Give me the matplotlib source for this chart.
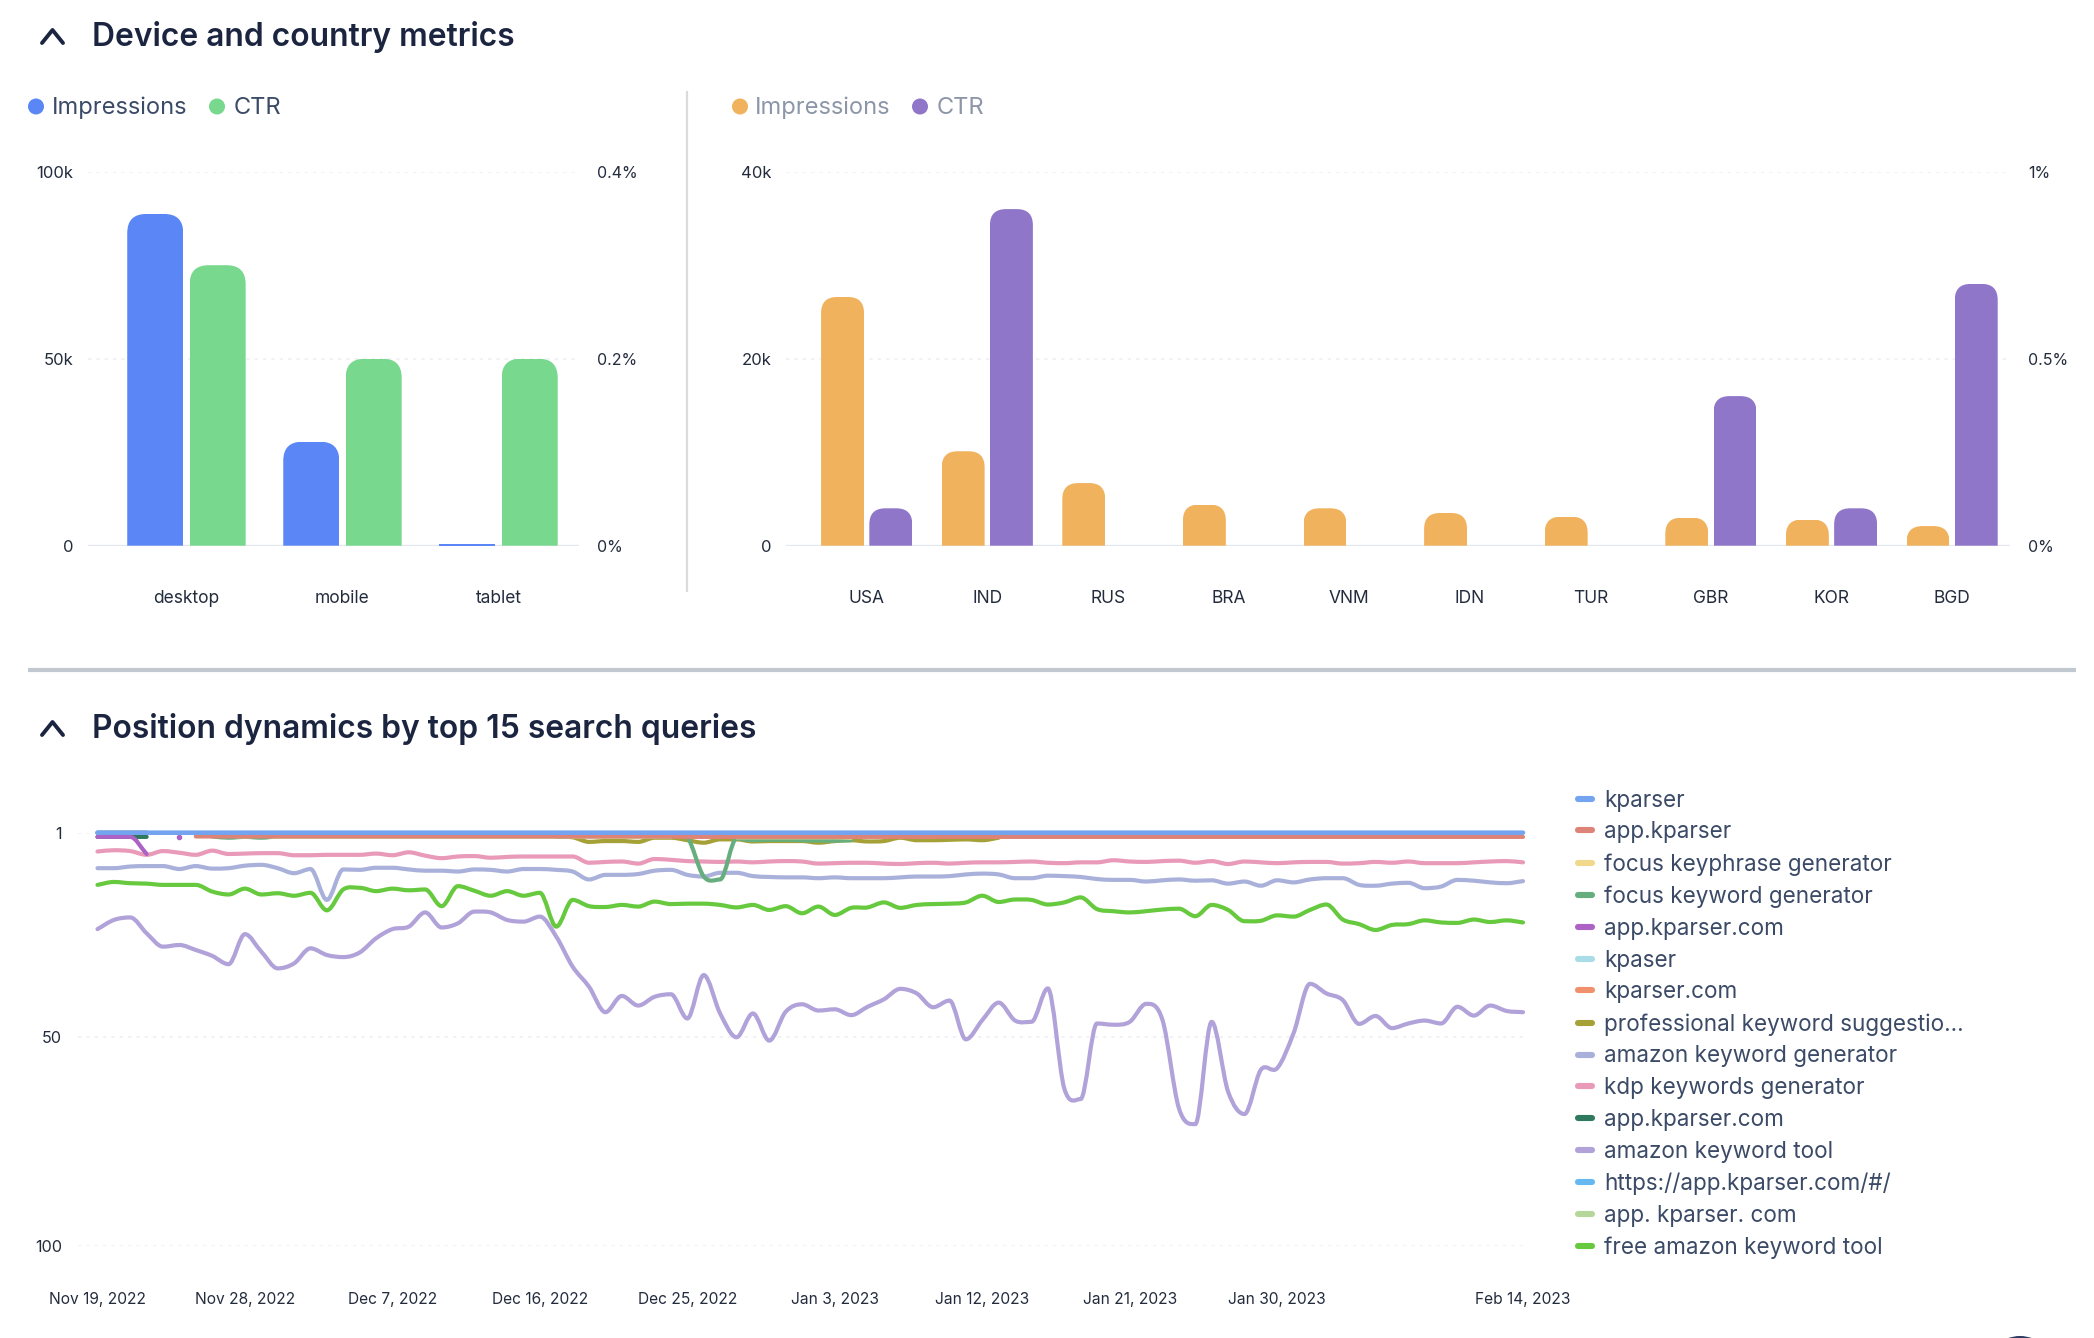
#!/usr/bin/env python3
"""Device / country bars and keyword position dynamics, saved to out.png."""

import matplotlib
matplotlib.use("Agg")
import matplotlib.pyplot as plt
from matplotlib.lines import Line2D
from matplotlib.patches import Circle, PathPatch
from matplotlib.path import Path
import numpy as np

plt.rcParams['font.family'] = ['Inter', 'DejaVu Sans']

W, H = 2094, 1338
nan = np.nan

devices = ["desktop", "mobile", "tablet"]
device_impressions = [88700, 27800, 500]
device_ctr = [0.3, 0.2, 0.2]

countries = ["USA", "IND", "RUS", "BRA", "VNM", "IDN", "TUR", "GBR", "KOR", "BGD"]
country_impressions = [26600, 10100, 6700, 4400, 4000, 3500, 3100, 3000, 2800, 2100]
country_ctr = [0.1, 0.9, 0, 0, 0, 0, 0, 0.4, 0.1, 0.7]

date_ticks = [0, 9, 18, 27, 36, 45, 54, 63, 72, 87]
date_labels = ["Nov 19, 2022", "Nov 28, 2022", "Dec 7, 2022", "Dec 16, 2022", "Dec 25, 2022",
               "Jan 3, 2023", "Jan 12, 2023", "Jan 21, 2023", "Jan 30, 2023", "Feb 14, 2023"]

kparser = [1.0] * 88
app_kparser = [nan] * 6 + [1.9] * 30 + [2.0] * 52
focus_keyphrase = ([nan] * 8 + [1.7, 1.9, 1.7] + [1.9] * 25 + [nan] * 3 + [2.1] * 7 + [2.2] + [nan] * 41)
focus_keyword = ([nan] * 7 + [1.9, 2.2, 2.0, 2.2] + [1.9] * 25 + [2.1, 11.5, 12.2, 2.4, 2.8, 2.7, 2.7, 2.8, 2.9, 2.9, 2.8] + [nan] * 41)
app_kparser_com = [2.0, 2.0, 2.0, 6.1, nan, 2.0] + [nan] * 82
kpaser = [1.0] * 4 + [nan] * 84
kparser_com = [1.0] * 4 + [nan] * 84
professional = ([nan] * 28 + [2.0, 2.1, 3.2, 3.0, 3.0, 3.2, 2.2, 2.2, 2.8, 3.4, 2.6, 2.6,
                 3.1, 3.0, 3.0, 3.0, 3.4, 3.0, 2.8, 3.1, 3.0, 2.2, 2.8, 2.8, 2.7, 2.6, 2.8, 2.2] + [nan] * 32)
amazon_generator = [9.5, 9.5, 9.1, 9, 9, 9.7, 9, 9.6, 9.5, 8.9,
                    8.7, 9.5, 10.7, 9.7, 17.1, 9.8, 9.9, 9.4, 9.4, 9.8,
                    10.1, 10.1, 10.3, 9.8, 9.9, 10.3, 9.7, 9.7, 9.9, 10.3,
                    12.2, 11.1, 11.1, 10.9, 10.1, 9.9, 11.1, 11.5, 10.6, 10.6,
                    11.4, 11.6, 11.7, 11.7, 11.9, 11.7, 11.9, 11.9, 11.9, 11.7,
                    11.5, 11.5, 11.4, 11, 10.8, 11, 11.9, 11.9, 11.3, 11.4,
                    11.6, 12.1, 12.3, 12.3, 12.7, 12.4, 12.2, 12.5, 12.4, 13.2,
                    12.7, 13.7, 12.4, 12.9, 12.2, 11.9, 11.9, 13.5, 13.7, 13.2,
                    13, 14.3, 13.9, 12.3, 12.5, 12.9, 13.1, 12.6]
kdp_generator = [5.5, 5.2, 5.4, 6.3, 5.4, 5.8, 6.3, 5.3, 6.1, 6,
                 5.9, 5.9, 6.4, 6.4, 6.3, 6.3, 6.3, 6, 6.4, 5.7,
                 6.5, 7.1, 6.7, 6.6, 7, 6.8, 6.7, 6.7, 6.7, 6.7,
                 8.2, 8, 7.9, 8.4, 7.3, 7.5, 7.8, 7.9, 8, 7.9,
                 8.1, 7.9, 7.8, 7.9, 8.4, 8.3, 8.2, 8.2, 8.4, 8.5,
                 8.3, 8.2, 8.4, 8.2, 8.1, 8.1, 8, 7.9, 8.2, 8.3,
                 8.1, 8.1, 7.6, 7.9, 8, 7.8, 7.7, 8.2, 7.8, 8.5,
                 7.9, 8.1, 8.3, 8.1, 8, 8, 8.4, 8.3, 8, 8.2,
                 7.9, 8.3, 8.3, 8.3, 8.1, 7.9, 7.8, 8.1]
app_kparser_com2 = [2.0, 2.0, 2.0, 2.0] + [nan] * 84
amazon_tool = [24.1, 21.9, 21.3, 25.1, 28.3, 27.9, 29.1, 30.5, 32.5, 25.3,
               29.5, 33.5, 32.3, 28.7, 30.3, 30.8, 29.7, 26.3, 24.1, 23.5,
               20.1, 23.7, 22.7, 19.9, 20.1, 21.9, 22.3, 21.1, 25.9, 33.1,
               37.9, 44, 40.1, 42.4, 40.3, 39.7, 45.5, 35.1, 44.3, 50,
               44.3, 50.8, 43.9, 42.1, 43.6, 43.3, 44.7, 42.7, 40.9, 38.4,
               39.5, 42.8, 41.2, 50.5, 45.9, 41.7, 46, 46.3, 38.3, 62.2,
               64.8, 46.7, 47, 46.3, 42, 45.9, 67, 70.8, 46.3, 63,
               68.4, 57.8, 57.4, 49, 37.2, 39.5, 41.1, 46.8, 44.9, 47.8,
               46.7, 46, 46.7, 42.7, 44.8, 42.4, 43.7, 44]
https_kparser = [1.0] * 4 + [nan] * 84
app_kparser_spaced = [1.0] * 4 + [nan] * 84
free_tool = [13.5, 12.8, 13.1, 13.2, 13.5, 13.5, 13.5, 15.1, 15.8, 14.4,
             15.8, 15.5, 16.1, 15.4, 19.6, 14.6, 14.2, 15, 14.4, 14.8,
             14.6, 18.6, 13.8, 14.9, 16.1, 15, 16.1, 15.4, 23.5, 17.1,
             18.6, 18.8, 18.3, 18.7, 17.5, 18.1, 18, 18, 18.3, 18.9,
             18.3, 19.5, 18.6, 20.3, 18.7, 20.7, 19, 18.9, 17.7, 19,
             18.3, 18.1, 18, 17.7, 16.1, 17.6, 17, 17.1, 18.2, 17.7,
             16.5, 19.3, 19.8, 20.1, 19.8, 19.4, 19.2, 21, 18.3, 19.5,
             22.2, 22.1, 20.8, 21.1, 19.5, 18.2, 21.8, 22.9, 24.3, 23.1,
             22.9, 22, 22.5, 22.6, 21.8, 22.4, 22, 22.5]

# legend order, the first ones are drawn on top
queries = [
    ("kparser", kparser, "#74a3ef"),
    ("app.kparser", app_kparser, "#de8377"),
    ("focus keyphrase generator", focus_keyphrase, "#f0d98a"),
    ("focus keyword generator", focus_keyword, "#67ae7f"),
    ("app.kparser.com", app_kparser_com, "#ad62c5"),
    ("kpaser", kpaser, "#a8dce6"),
    ("kparser.com", kparser_com, "#f0906c"),
    ("professional keyword suggestio...", professional, "#a5a136"),
    ("amazon keyword generator", amazon_generator, "#a9b1db"),
    ("kdp keywords generator", kdp_generator, "#e89ab8"),
    ("app.kparser.com", app_kparser_com2, "#2f7a5e"),
    ("amazon keyword tool", amazon_tool, "#b1a2d9"),
    ("https://app.kparser.com/#/", https_kparser, "#66b8f0"),
    ("app. kparser. com", app_kparser_spaced, "#b5d89a"),
    ("free amazon keyword tool", free_tool, "#66c93e"),
]

TEXT = "#232c3d"
GRID = "#eef0f4"
BASE = "#e4e8ee"


def px_axes(fig, x0, y0, x1, y1):
    return fig.add_axes([x0 / W, 1 - y1 / H, (x1 - x0) / W, (y1 - y0) / H])


def round_tops(ax, bars, r_px):
    # keep real bars, only clip their two top corners
    box = ax.get_window_extent()
    xl, yl = ax.get_xlim(), ax.get_ylim()
    rx = r_px * (xl[1] - xl[0]) / box.width
    ry = r_px * (yl[1] - yl[0]) / box.height
    for b in bars:
        x0, x1, h = b.get_x(), b.get_x() + b.get_width(), b.get_height()
        if h < ry:
            continue
        verts = [(x0, 0), (x0, h - ry), (x0, h), (x0 + rx, h), (x1 - rx, h), (x1, h), (x1, h - ry), (x1, 0), (x0, 0)]
        codes = [Path.MOVETO, Path.LINETO, Path.CURVE3, Path.CURVE3, Path.LINETO,
                 Path.CURVE3, Path.CURVE3, Path.LINETO, Path.CLOSEPOLY]
        b.set_clip_path(Path(verts, codes), ax.transData)


def bar_panel(fig, box, cats, left, right, xlim, left_max, right_max, left_fmt, right_fmt, colors):
    ax = px_axes(fig, *box)
    ax2 = ax.twinx()
    x = np.arange(len(cats))
    width = colors[2]
    ax.set_xlim(*xlim)
    ax.set_ylim(0, left_max)
    ax2.set_ylim(0, right_max)
    b1 = ax.bar(x - 0.2, left, width, color=colors[0], zorder=2)
    b2 = ax2.bar(x + 0.2, right, width, color=colors[1], zorder=2)
    round_tops(ax, b1, colors[3])
    round_tops(ax2, b2, colors[3])

    ax.set_xticks(x, cats)
    ax.set_yticks([0, left_max / 2, left_max], left_fmt)
    ax2.set_yticks([0, right_max / 2, right_max], right_fmt)
    ax.tick_params(axis='x', length=0, pad=32, labelsize=12.5, labelcolor=TEXT)
    ax.tick_params(axis='y', length=0, pad=10.5, labelsize=12, labelcolor=TEXT)
    ax2.tick_params(axis='y', length=0, pad=13, labelsize=11.5, labelcolor=TEXT)
    ax.grid(axis='y', color=GRID, linewidth=1.2, linestyle=(0, (2, 3)))
    ax.axhline(0, color=BASE, linewidth=2.4, zorder=1)
    ax.set_axisbelow(True)
    for a in (ax, ax2):
        a.patch.set_visible(False)
        for s in a.spines.values():
            s.set_visible(False)
    return ax


def smooth_line(ax, xs, ys, color, lw, z):
    # bezier through the read points, flat at peaks so it does not overshoot them
    xs, ys = np.asarray(xs, float), np.asarray(ys, float)
    ok = ~np.isnan(ys)
    start = None
    for i in range(len(ys) + 1):
        if i < len(ys) and ok[i]:
            if start is None:
                start = i
            continue
        if start is None:
            continue
        x, y = xs[start:i], ys[start:i]
        start = None
        if len(x) == 1:
            ax.plot(x, y, 'o', ms=lw, color=color, zorder=z, clip_on=False)
            continue
        slope = np.gradient(y)
        d = np.diff(y)
        slope[1:-1][d[:-1] * d[1:] <= 0] = 0
        verts, codes = [(x[0], y[0])], [Path.MOVETO]
        for k in range(len(x) - 1):
            verts += [(x[k] + 1 / 3, y[k] + slope[k] / 3),
                      (x[k + 1] - 1 / 3, y[k + 1] - slope[k + 1] / 3),
                      (x[k + 1], y[k + 1])]
            codes += [Path.CURVE4] * 3
        ax.add_patch(PathPatch(Path(verts, codes), fill=False, edgecolor=color, linewidth=lw,
                               capstyle='round', joinstyle='round', zorder=z, clip_on=False))


def main():
    fig = plt.figure(figsize=(W / 100, H / 100), dpi=100, facecolor="white")

    # page layer in pixel coordinates
    bg = fig.add_axes([0, 0, 1, 1])
    bg.set_xlim(0, W)
    bg.set_ylim(H, 0)
    bg.axis("off")

    for label, y, x0 in [("Device and country metrics", 37, 92), ("Position dynamics by top 15 search queries", 729, 92)]:
        bg.text(x0, y, label, fontsize=22.9, fontweight="semibold", color="#1b2540", va="center")
    for y in (36, 728):
        bg.plot([42, 52.5, 63], [y + 7, y - 6, y + 7], color="#1b2540", lw=2.8, solid_capstyle='round')

    bg.plot([687, 687], [92, 591], color="#d9dbde", lw=1.6)
    bg.plot([28, 2076], [670, 670], color="#c1c8d0", lw=3, solid_capstyle='butt')

    for items, text_color in [([(36, 52, "Impressions", "#5b86f5"), (217, 234, "CTR", "#78d88e")], "#3b4a66"),
                              ([(740, 755, "Impressions", "#f0b25d"), (920, 937, "CTR", "#8f76c8")], "#8c96a8")]:
        for dot_x, text_x, label, color in items:
            bg.add_patch(Circle((dot_x, 106.5), 8, color=color, lw=0))
            bg.text(text_x, 107.5, label, fontsize=17, color=text_color, va="center")

    bg.add_patch(Circle((2020, 1370), 34, color="#2b3a63", lw=0))

    bar_panel(fig, (88, 171.7, 579, 545.7), devices, device_impressions, device_ctr,
              (-0.631, 2.516), 100000, 0.4, ["0", "50k", "100k"], ["0%", "0.2%", "0.4%"],
              ("#5b86f5", "#78d88e", 0.359, 19))
    bar_panel(fig, (786, 171.7, 2010, 545.7), countries, country_impressions, country_ctr,
              (-0.669, 9.48), 40000, 1, ["0", "20k", "40k"], ["0%", "0.5%", "1%"],
              ("#f0b25d", "#8f76c8", 0.356, 16))

    ax = px_axes(fig, 77.5, 832.7, 1523, 1246)
    days = np.arange(88)
    ax.set_xlim(-1.22, 87)
    ax.set_ylim(100, 1)
    for n, (label, values, color) in enumerate(queries):
        smooth_line(ax, days, values, color, 3.3 if n == 0 else 3.0, 20 - n)
    ax.set_xticks(date_ticks, date_labels)
    ax.set_yticks([1, 50, 100], ["1", "50", "100"])
    ax.tick_params(axis='x', length=0, pad=33, labelsize=11.2, labelcolor=TEXT)
    ax.tick_params(axis='y', length=0, pad=11, labelsize=11.7, labelcolor=TEXT)
    ax.grid(axis='y', color=GRID, linewidth=1.2, linestyle=(0, (2, 3)))
    ax.set_axisbelow(True)
    ax.patch.set_visible(False)
    for s in ax.spines.values():
        s.set_visible(False)

    handles = [Line2D([], [], color=c, lw=4.4, solid_capstyle='round') for _, _, c in queries]
    bg.legend(handles, [q[0] for q in queries], loc="upper left", bbox_to_anchor=(1578, 789.5),
              bbox_transform=bg.transData, frameon=False, fontsize=16.2, labelcolor="#3b4a66",
              handlelength=0.64, handletextpad=0.51, labelspacing=0.436, borderpad=0, borderaxespad=0)

    fig.savefig("out.png", dpi=100)
    plt.close(fig)


if __name__ == "__main__":
    main()
